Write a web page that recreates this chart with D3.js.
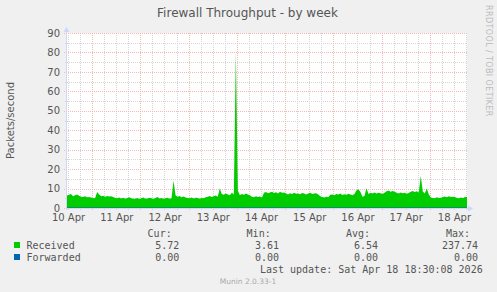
<!DOCTYPE html>
<html>
<head>
<meta charset="utf-8">
<script src="https://cdn.jsdelivr.net/npm/d3@7"></script>
<style>
	body { margin: 0; background: #f0f0f0; }
	svg { display: block; }
	text { fill: #555; }
</style>
</head>
<body>
<div id="chart"><svg></svg></div>
<script>
// hourly packets/second, received
var received = [
	6.4, 6.8, 7.2, 6.0, 6.5, 7.0, 6.3,
	5.8, 5.6, 6.0, 5.5, 5.7, 5.4,
	5.0, 5.2, 8.2, 7.0,
	6.0, 6.3, 5.8, 6.2, 5.9, 6.1, 5.6,
	5.2, 5.0, 5.4, 4.9, 5.3, 4.8, 5.1, 5.5, 5.0, 4.8,
	4.8, 5.2, 4.6, 5.0, 5.4, 4.7, 4.9, 5.3, 5.0, 4.6, 5.1, 5.6, 4.9, 5.2, 4.7, 5.0, 5.3, 4.8, 5.0,
	14.0, 6.5,
	5.8, 6.2, 5.5, 5.9, 5.4,
	5.2, 5.0, 5.4, 4.9, 5.3, 5.1, 4.8, 5.2, 5.0, 5.5,
	5.8, 6.2, 5.6, 6.0, 6.4, 5.8,
	10.0,
	7.2, 6.8, 7.5, 7.0, 6.6, 7.8, 7.0,
	80.0, 9.0,
	6.5, 7.2, 6.8, 7.5, 7.0, 6.6,
	5.8, 5.5, 6.0, 5.6, 5.9, 5.4,
	7.8, 8.2, 7.6, 8.0, 8.4, 7.7, 8.1, 7.5, 8.3, 7.8, 8.0,
	7.4, 7.0, 7.6, 7.2, 7.8, 7.3, 7.5, 7.1, 7.7, 7.4, 7.0, 7.5, 7.8, 7.2, 7.4, 7.6, 7.0,
	6.0, 5.6, 5.4, 5.8, 5.5,
	6.8, 7.0, 6.6, 7.2, 6.9, 7.4, 6.7, 7.1, 6.8, 7.3, 7.0, 6.6, 7.2,
	9.0, 9.6, 8.2,
	5.8, 6.2, 10.2,
	7.2, 7.8, 7.5, 8.0, 7.4, 7.9, 7.6, 7.2, 7.8,
	8.6, 9.0, 8.3, 8.8, 8.4,
	7.8, 7.4, 8.0, 7.6, 7.9, 7.3, 7.7,
	8.4, 8.8, 8.2, 8.6, 8.0,
	16.5, 8.5, 7.5, 10.0, 7.0,
	5.4, 5.2, 5.0, 5.5, 5.1, 5.3,
	5.7, 5.9, 5.5, 6.0, 5.6, 5.8, 5.7,
	5.2, 5.0, 5.4, 5.1, 5.6, 5.72
];
var forwarded = received.map(function() { return 0; });

var yTicks = [0, 10, 20, 30, 40, 50, 60, 70, 80, 90];
var dayLabels = [10, 11, 12, 13, 14, 15, 16, 17, 18];

var legendNames = ["Received", "Forwarded"];
var legendColors = ["#00cc00", "#0066b3"];
var legendHeaders = ["Cur:", "Min:", "Avg:", "Max:"];
var legendCur = ["5.72", "0.00"];
var legendMin = ["3.61", "0.00"];
var legendAvg = ["6.54", "0.00"];
var legendMax = ["237.74", "0.00"];

var titleText = "Firewall Throughput - by week";
var yLabelText = "Packets/second";
var lastUpdate = "Last update: Sat Apr 18 18:30:08 2026";
var versionText = "Munin 2.0.33-1";
var watermark = "RRDTOOL / TOBI OETIKER";

var startTime = new Date(2026, 3, 10, 11, 30);
var endTime = new Date(2026, 3, 18, 18, 30);

function ThroughputChart(selector) {
	var self = this;
	self.selector = selector;
	self.width = 497;
	self.height = 292;
	self.left = 67;
	self.right = 467;
	self.top = 33;
	self.bottom = 208;
	self.sans = "DejaVu Sans, sans-serif";
	self.mono = "DejaVu Sans Mono, monospace";
	self.svg = d3.select(self.selector + " svg");
}

ThroughputChart.prototype.draw = function() {
	var self = this;
	self.setDimensions();
	self.x = d3.scaleTime().domain([startTime, endTime]).range([self.left, self.right]);
	self.y = d3.scaleLinear().domain([0, 90]).range([self.bottom, self.top]);
	self.drawCanvas();
	self.drawGrid();
	self.drawSeries();
	self.drawAxes();
	self.drawTexts();
	self.drawLegend();
};

ThroughputChart.prototype.setDimensions = function() {
	var self = this;
	self.svg.attr("width", self.width).attr("height", self.height);
	self.svg.append("rect")
			.attr("width", self.width)
			.attr("height", self.height)
			.attr("fill", "#f0f0f0");
};

ThroughputChart.prototype.drawCanvas = function() {
	var self = this;
	self.svg.append("rect")
			.attr("x", self.left)
			.attr("y", self.top)
			.attr("width", self.right - self.left)
			.attr("height", self.bottom - self.top)
			.attr("fill", "#ffffff");
};

ThroughputChart.prototype.drawGrid = function() {
	var self = this;
	var g = self.svg.append("g").attr("shape-rendering", "crispEdges");
	var minorX = d3.timeHour.every(6).range(startTime, endTime);
	var majorX = d3.timeDay.range(startTime, endTime);
	var minorY = d3.range(5, 90, 10);

	g.selectAll("line.minx").data(minorX).enter().append("line")
			.attr("x1", function(d) { return Math.round(self.x(d)) + 0.5; })
			.attr("x2", function(d) { return Math.round(self.x(d)) + 0.5; })
			.attr("y1", self.top)
			.attr("y2", self.bottom + 2)
			.attr("stroke", "#d6d6d6")
			.attr("stroke-dasharray", "1,1");
	g.selectAll("line.miny").data(minorY).enter().append("line")
			.attr("x1", self.left - 2)
			.attr("x2", self.right)
			.attr("y1", function(d) { return Math.round(self.y(d)) + 0.5; })
			.attr("y2", function(d) { return Math.round(self.y(d)) + 0.5; })
			.attr("stroke", "#d6d6d6")
			.attr("stroke-dasharray", "1,1");
	g.selectAll("line.majx").data(majorX).enter().append("line")
			.attr("x1", function(d) { return Math.round(self.x(d)) + 0.5; })
			.attr("x2", function(d) { return Math.round(self.x(d)) + 0.5; })
			.attr("y1", self.top)
			.attr("y2", self.bottom + 3)
			.attr("stroke", "#f4b8b8")
			.attr("stroke-dasharray", "1,1");
	g.selectAll("line.majy").data(yTicks).enter().append("line")
			.attr("x1", self.left - 3)
			.attr("x2", self.right)
			.attr("y1", function(d) { return Math.round(self.y(d)) + 0.5; })
			.attr("y2", function(d) { return Math.round(self.y(d)) + 0.5; })
			.attr("stroke", "#f4b8b8")
			.attr("stroke-dasharray", "1,1");
};

ThroughputChart.prototype.drawSeries = function() {
	var self = this;
	var t = function(i) { return new Date(startTime.getTime() + i * 3600e3); };
	var area = d3.area()
			.x(function(d, i) { return self.x(t(i)); })
			.y0(self.y(0))
			.y1(function(d) { return self.y(Math.min(d, 90)); });
	self.svg.append("path")
			.datum(received)
			.attr("d", area)
			.attr("fill", "#00cc00");
	var line = d3.line()
			.x(function(d, i) { return self.x(t(i)); })
			.y(function(d) { return self.y(d); });
	self.svg.append("path")
			.datum(forwarded)
			.attr("d", line)
			.attr("fill", "none")
			.attr("stroke", "#0066b3");
};

ThroughputChart.prototype.drawAxes = function() {
	var self = this;
	var axisColor = "#cfd6f8";
	self.svg.append("line")
			.attr("x1", self.left - 0.5).attr("x2", self.right + 2)
			.attr("y1", self.bottom + 0.5).attr("y2", self.bottom + 0.5)
			.attr("stroke", axisColor);
	self.svg.append("line")
			.attr("x1", self.left - 0.5).attr("x2", self.left - 0.5)
			.attr("y1", self.bottom + 2).attr("y2", self.top - 3)
			.attr("stroke", axisColor);
	self.svg.append("path")
			.attr("d", "M" + (self.right + 1) + "," + (self.bottom - 2.5) + "L" + (self.right + 6) + "," + (self.bottom + 0.5) + "L" + (self.right + 1) + "," + (self.bottom + 3.5) + "Z")
			.attr("fill", axisColor);
	self.svg.append("path")
			.attr("d", "M" + (self.left - 3.5) + "," + (self.top - 1) + "L" + (self.left - 0.5) + "," + (self.top - 6) + "L" + (self.left + 2.5) + "," + (self.top - 1) + "Z")
			.attr("fill", axisColor);

	var yAxis = d3.axisLeft(self.y).tickValues(yTicks).tickSize(0).tickPadding(7);
	var yg = self.svg.append("g")
			.attr("transform", "translate(" + self.left + ",0)")
			.call(yAxis);
	yg.select(".domain").remove();
	yg.selectAll("text").attr("font-family", self.sans).attr("font-size", 10).attr("fill", "#555");

	var noons = dayLabels.map(function(d) { return new Date(2026, 3, d, 12, 0); });
	var xAxis = d3.axisBottom(self.x).tickValues(noons).tickSize(0).tickPadding(6)
			.tickFormat(d3.timeFormat("%d %b"));
	var xg = self.svg.append("g")
			.attr("transform", "translate(0," + self.bottom + ")")
			.call(xAxis);
	xg.select(".domain").remove();
	xg.selectAll("text").attr("font-family", self.sans).attr("font-size", 10).attr("fill", "#555");
};

ThroughputChart.prototype.drawTexts = function() {
	var self = this;
	self.svg.append("text")
			.attr("x", 247.5)
			.attr("y", 13)
			.attr("dy", "0.35em")
			.attr("text-anchor", "middle")
			.attr("font-family", self.sans)
			.attr("font-size", 12)
			.text(titleText);
	self.svg.append("text")
			.attr("transform", "translate(10.5," + ((self.top + self.bottom) / 2) + ") rotate(-90)")
			.attr("dy", "0.35em")
			.attr("text-anchor", "middle")
			.attr("font-family", self.sans)
			.attr("font-size", 10)
			.text(yLabelText);
	self.svg.append("text")
			.attr("transform", "translate(488.5,5) rotate(90)")
			.attr("dy", "0.35em")
			.attr("font-family", self.sans)
			.attr("font-size", 8)
			.attr("letter-spacing", 0.4)
			.style("fill", "#bbb")
			.text(watermark);
	self.svg.append("text")
			.attr("x", 248)
			.attr("y", 281)
			.attr("dy", "0.35em")
			.attr("text-anchor", "middle")
			.attr("font-family", self.sans)
			.attr("font-size", 7.5)
			.style("fill", "#aaa")
			.text(versionText);
};

ThroughputChart.prototype.drawLegend = function() {
	var self = this;
	var headerX = [171.7, 270.7, 370, 470];
	var valueX = [179.3, 279, 378, 478];
	var columns = [legendCur, legendMin, legendAvg, legendMax];
	var rowY = [245, 257];

	self.svg.selectAll("text.head").data(legendHeaders).enter().append("text")
			.attr("x", function(d, i) { return headerX[i]; })
			.attr("y", 233.5)
			.attr("dy", "0.35em")
			.attr("text-anchor", "end")
			.attr("font-family", self.mono)
			.attr("font-size", 10)
			.text(function(d) { return d; });

	var rows = self.svg.selectAll("g.row").data(legendNames).enter().append("g")
			.attr("transform", function(d, i) { return "translate(0," + rowY[i] + ")"; });
	rows.append("rect")
			.attr("x", 14).attr("y", -3)
			.attr("width", 6).attr("height", 6)
			.attr("fill", function(d, i) { return legendColors[i]; });
	rows.append("text")
			.attr("x", 26.5)
			.attr("dy", "0.35em")
			.attr("font-family", self.mono)
			.attr("font-size", 10)
			.text(function(d) { return d; });
	columns.forEach(function(col, c) {
		rows.append("text")
				.attr("x", valueX[c])
				.attr("dy", "0.35em")
				.attr("text-anchor", "end")
				.attr("font-family", self.mono)
				.attr("font-size", 10)
				.text(function(d, i) { return col[i]; });
	});

	self.svg.append("text")
			.attr("x", 482.7)
			.attr("y", 269.5)
			.attr("dy", "0.35em")
			.attr("text-anchor", "end")
			.attr("font-family", self.mono)
			.attr("font-size", 10)
			.text(lastUpdate);
};

var chart = new ThroughputChart("#chart");
chart.draw();
</script>
</body>
</html>
